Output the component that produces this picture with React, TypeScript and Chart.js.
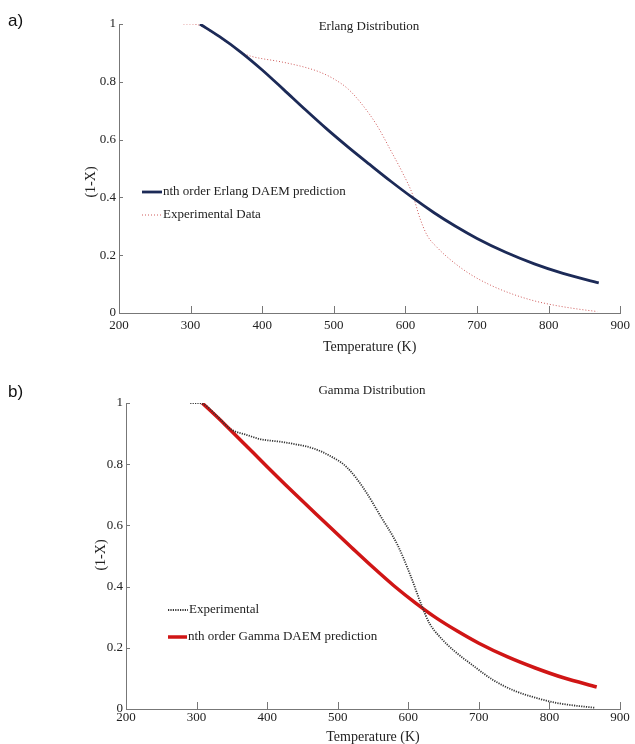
import React, { useEffect, useRef } from "react";
import { Chart, registerables } from "chart.js";

Chart.register(...registerables);

// ---- data ----
const xTickValues = [200, 300, 400, 500, 600, 700, 800, 900];
const yTickLabels = ["0", "0.2", "0.4", "0.6", "0.8", "1"];

const erlangT = [313, 340, 370, 400, 430, 460, 490, 520, 550, 580, 610, 640, 670, 700, 740, 780, 820, 870];
const erlangY = [1.0, 0.957, 0.903, 0.841, 0.773, 0.704, 0.637, 0.574, 0.514, 0.455, 0.399, 0.347, 0.3, 0.258, 0.21, 0.17, 0.137, 0.104];

const expAT = [290, 300, 313, 330, 350, 372, 385, 400, 420, 440, 460, 480, 500, 520, 540, 560, 580, 595, 610, 620, 630, 645, 665, 690, 720, 750, 780, 810, 840, 868];
const expAY = [1.0, 1.0, 0.995, 0.97, 0.937, 0.9, 0.888, 0.88, 0.872, 0.862, 0.85, 0.834, 0.81, 0.775, 0.72, 0.65, 0.56, 0.49, 0.41, 0.33, 0.27, 0.225, 0.18, 0.135, 0.095, 0.065, 0.042, 0.026, 0.014, 0.005];

const gammaT = [308, 340, 370, 400, 430, 460, 490, 520, 550, 580, 610, 640, 670, 700, 740, 780, 820, 867];
const gammaY = [1.0, 0.93, 0.861, 0.792, 0.724, 0.658, 0.592, 0.527, 0.463, 0.402, 0.347, 0.297, 0.254, 0.215, 0.171, 0.134, 0.102, 0.072];

const expBT = [291, 300, 308, 330, 348, 372, 390, 420, 445, 465, 490, 513, 537, 560, 585, 603, 619, 630, 645, 665, 690, 720, 750, 780, 810, 840, 865];
const expBY = [1.0, 1.0, 0.998, 0.955, 0.915, 0.895, 0.882, 0.873, 0.863, 0.852, 0.826, 0.79, 0.72, 0.633, 0.535, 0.437, 0.338, 0.28, 0.235, 0.19, 0.145, 0.095, 0.06, 0.037, 0.02, 0.01, 0.004];

const SERIF = '"Liberation Serif", "Times New Roman", serif';

const toPts = (xs: number[], ys: number[]) => xs.map((x, i) => ({ x, y: ys[i] }));

const decorPlugin = {
  id: "decor",
  afterDraw(chart: any, _args: any, opts: any) {
    const ctx = chart.ctx;
    const xs = chart.scales.x;
    const ys = chart.scales.y;
    const ca = chart.chartArea;
    ctx.save();
    // inward tick marks
    ctx.strokeStyle = "#777";
    ctx.lineWidth = 1;
    ctx.beginPath();
    xs.ticks.forEach((t: any) => {
      if (t.value === xs.min) return;
      const px = Math.round(xs.getPixelForValue(t.value)) + 0.5;
      ctx.moveTo(px, ca.bottom);
      ctx.lineTo(px, ca.bottom - 7);
    });
    ys.ticks.forEach((t: any) => {
      if (t.value === ys.min) return;
      const py = Math.round(ys.getPixelForValue(t.value)) + 0.5;
      ctx.moveTo(ca.left, py);
      ctx.lineTo(ca.left + 4, py);
    });
    ctx.stroke();

    ctx.fillStyle = "#222";
    ctx.textBaseline = "middle";
    ctx.textAlign = "center";
    // plot title
    ctx.font = `13px ${SERIF}`;
    ctx.fillText(opts.title, opts.titleX, opts.titleY);
    // x axis title
    ctx.font = `14px ${SERIF}`;
    ctx.fillText("Temperature (K)", (ca.left + ca.right) / 2, opts.xTitleY);
    // y axis title
    ctx.save();
    ctx.font = `14px ${SERIF}`;
    ctx.translate(opts.yTitleX, opts.yTitleY);
    ctx.rotate(-Math.PI / 2);
    ctx.fillText("(1-X)", 0, 0);
    ctx.restore();

    // legend
    ctx.font = `13px ${SERIF}`;
    ctx.textAlign = "left";
    opts.legend.forEach((item: any) => {
      const ds = chart.data.datasets[item.index];
      ctx.save();
      ctx.strokeStyle = ds.borderColor;
      ctx.lineWidth = ds.borderWidth;
      ctx.setLineDash(ds.borderDash || []);
      ctx.beginPath();
      ctx.moveTo(item.x1, item.y);
      ctx.lineTo(item.x2, item.y);
      ctx.stroke();
      ctx.restore();
      ctx.fillStyle = "#222";
      ctx.fillText(ds.label, item.x2 + 1, item.y);
    });
    ctx.restore();
  },
};

function makeConfig(p: any): any {
  return {
    type: "line",
    data: { datasets: p.datasets },
    plugins: [decorPlugin],
    options: {
      responsive: false,
      animation: false,
      layout: { padding: { top: p.padTop, right: p.padRight, bottom: 0, left: 0 } },
      elements: { point: { radius: 0 }, line: { tension: 0.4, cubicInterpolationMode: "monotone" } },
      plugins: {
        legend: { display: false },
        tooltip: { enabled: false },
        decor: p.decor,
      },
      scales: {
        x: {
          type: "linear",
          min: 200,
          max: 900,
          afterFit: (s: any) => { s.height = p.xHeight; },
          afterBuildTicks: (s: any) => { s.ticks = xTickValues.map((v) => ({ value: v })); },
          grid: { display: false, drawTicks: false },
          border: { display: true, color: "#777", width: 1 },
          ticks: {
            padding: p.xTickPad,
            color: "#222",
            font: { family: SERIF, size: 13 },
            callback: (v: number) => String(v),
          },
        },
        y: {
          type: "linear",
          min: 0,
          max: 1,
          afterFit: (s: any) => { s.width = p.yWidth; },
          grid: { display: false, drawTicks: false },
          border: { display: true, color: "#777", width: 1 },
          ticks: {
            stepSize: 0.2,
            padding: 3,
            color: "#222",
            font: { family: SERIF, size: 13 },
            callback: (v: number) => yTickLabels[Math.round(v / 0.2)],
          },
        },
      },
    },
  };
}

function Plot({ config, top, height }: { config: any; top: number; height: number }) {
  const ref = useRef<HTMLCanvasElement>(null);
  useEffect(() => {
    const chart = new Chart(ref.current as HTMLCanvasElement, config);
    return () => chart.destroy();
  }, []);
  return (
    <canvas
      ref={ref}
      width={635}
      height={height}
      style={{ position: "absolute", left: 0, top, width: 635, height }}
    />
  );
}

export default function App() {
  const configA = makeConfig({
    padTop: 24,
    padRight: 11,
    xHeight: 47,
    yWidth: 119,
    xTickPad: 5,
    datasets: [
      {
        label: "nth order Erlang DAEM prediction",
        data: toPts(erlangT, erlangY),
        borderColor: "#1c2a57",
        borderWidth: 2.8,
      },
      {
        label: "Experimental Data",
        data: toPts(expAT, expAY),
        borderColor: "#cf5a5a",
        borderWidth: 1,
        borderDash: [1, 2],
      },
    ],
    decor: {
      title: "Erlang Distribution",
      titleX: 369,
      titleY: 27,
      xTitleY: 347,
      yTitleX: 91,
      yTitleY: 182,
      legend: [
        { index: 0, x1: 142, x2: 162, y: 192 },
        { index: 1, x1: 142, x2: 162, y: 215 },
      ],
    },
  });

  const configB = makeConfig({
    padTop: 43,
    padRight: 15,
    xHeight: 35,
    yWidth: 126,
    xTickPad: 1,
    datasets: [
      {
        label: "Experimental",
        data: toPts(expBT, expBY),
        borderColor: "#333333",
        borderWidth: 1.8,
        borderDash: [1.2, 1.2],
      },
      {
        label: "nth order Gamma DAEM prediction",
        data: toPts(gammaT, gammaY),
        borderColor: "#d01515",
        borderWidth: 3.5,
      },
    ],
    decor: {
      title: "Gamma Distribution",
      titleX: 372,
      titleY: 31,
      xTitleY: 377,
      yTitleX: 101,
      yTitleY: 195,
      legend: [
        { index: 0, x1: 168, x2: 188, y: 250 },
        { index: 1, x1: 168, x2: 187, y: 277 },
      ],
    },
  });

  const labelStyle: React.CSSProperties = {
    position: "absolute",
    left: 8,
    fontFamily: '"Liberation Sans", Arial, sans-serif',
    fontSize: 17,
    lineHeight: "17px",
    color: "#111",
  };

  return (
    <div style={{ position: "absolute", left: 0, top: 0, width: 635, height: 744, background: "#fff", overflow: "hidden" }}>
      <Plot config={configA} top={0} height={360} />
      <Plot config={configB} top={360} height={384} />
      <div style={{ ...labelStyle, top: 12 }}>a)</div>
      <div style={{ ...labelStyle, top: 383 }}>b)</div>
    </div>
  );
}
